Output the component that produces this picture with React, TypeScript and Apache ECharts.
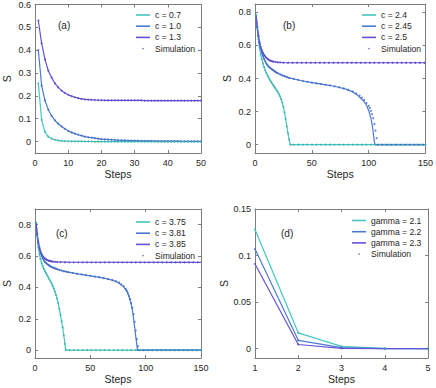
import React, { useEffect, useRef } from "react";
import * as echarts from "echarts";

// ---------- Panel (a): S at steps 1..50 ----------
const aC07 = [0.255,0.095,0.042,0.022,0.013,0.008,0.005,0.003,0.002,0.0015,
  0.001,0.0008,0.0006,0.0005,0.0004,0.0003,0.0003,0.0002,0.0002,0.0002,
  0,0,0,0,0,0,0,0,0,0, 0,0,0,0,0,0,0,0,0,0, 0,0,0,0,0,0,0,0,0,0];
const aC10 = [0.40,0.245,0.18,0.14,0.112,0.093,0.078,0.066,0.056,0.047,
  0.040,0.035,0.030,0.026,0.022,0.019,0.017,0.015,0.013,0.011,
  0.010,0.009,0.008,0.007,0.0063,0.0057,0.0052,0.0047,0.0043,0.004,
  0.0037,0.0034,0.0031,0.0029,0.0027,0.0025,0.0023,0.0021,0.002,0.0019,
  0.0018,0.0017,0.0016,0.0015,0.0014,0.0013,0.0012,0.0012,0.0011,0.001];
const aC13 = [0.53,0.43,0.36,0.31,0.28,0.255,0.237,0.223,0.213,0.205,
  0.199,0.194,0.19,0.187,0.185,0.184,0.183,0.182,0.181,0.181,
  0.18,0.18,0.18,0.18,0.18,0.18,0.18,0.18,0.18,0.18,
  0.18,0.18,0.179,0.179,0.179,0.179,0.179,0.179,0.179,0.179,
  0.179,0.179,0.179,0.179,0.179,0.179,0.179,0.179,0.179,0.179];

// ---------- Panel (b): [step, S] ----------
const bC240 = [[1,0.78],[2,0.70],[3,0.635],[4,0.585],[5,0.545],[6,0.515],[7,0.49],[8,0.468],[10,0.432],[13,0.392],[15,0.37],[18,0.34],[20,0.318],[22,0.292],[24,0.255],[26,0.195],[28,0.11],[29.5,0.05],[31,0],[150,0]];
const bC245 = [[1,0.78],[2,0.71],[3,0.655],[4,0.61],[5,0.58],[6,0.555],[7,0.535],[8,0.518],[10,0.49],[12,0.472],[15,0.455],[20,0.432],[25,0.416],[30,0.404],[40,0.388],[50,0.375],[60,0.364],[70,0.353],[80,0.336],[85,0.322],[90,0.30],[95,0.268],[98,0.24],[100,0.207],[102,0.16],[103,0.125],[104,0.075],[105,0.02],[105.5,0],[150,0]];
const bC250 = [[1,0.78],[2,0.71],[3,0.66],[4,0.62],[5,0.59],[6,0.57],[7,0.555],[8,0.543],[10,0.525],[12,0.513],[14,0.506],[16,0.502],[20,0.498],[25,0.496],[30,0.495],[150,0.495]];
const bSim240 = [[1,0.78],[2,0.70],[3,0.635],[4,0.585],[5,0.545],[6,0.515],[7,0.49],[8,0.468],[9,0.449],[10,0.432],[11,0.418],[12,0.405],[13,0.392],[14,0.381],[15,0.37],[16,0.36],[17,0.35],[18,0.34],[19,0.329],[20,0.318],[21,0.306],[22,0.292],[23,0.275],[24,0.255],[25,0.228],[26,0.195],[27,0.155],[28,0.11],[29,0.07],[30,0.03],[31,0],[34,0],[38,0],[42,0],[46,0],[50,0],[54,0],[58,0],[62,0],[66,0],[70,0],[74,0],[78,0],[82,0],[86,0],[90,0],[94,0],[98,0],[102,0],[106,0],[110,0],[114,0],[118,0],[122,0],[126,0],[130,0],[134,0],[138,0],[142,0],[146,0],[150,0]];
const bSim245 = [[1,0.78],[2,0.71],[3,0.655],[4,0.61],[5,0.58],[6,0.555],[7,0.535],[8,0.518],[9,0.503],[10,0.49],[11,0.481],[12,0.472],[13,0.465],[14,0.46],[15,0.455],[16,0.45],[17,0.445],[18,0.44],[19,0.436],[20,0.432],[22,0.425],[24,0.419],[26,0.414],[28,0.409],[30,0.404],[34,0.398],[38,0.391],[42,0.385],[46,0.38],[50,0.375],[54,0.371],[58,0.366],[62,0.362],[66,0.358],[70,0.353],[74,0.347],[78,0.34],[82,0.332],[86,0.322],[89,0.31],[92,0.296],[94,0.284],[96,0.27],[98,0.252],[100,0.235],[101,0.222],[102,0.205],[103,0.185],[104,0.16],[105,0.125],[106,0.085],[107,0.04],[108,0],[112,0],[116,0],[120,0],[124,0],[128,0],[132,0],[136,0],[140,0],[144,0],[148,0]];
const bSim250 = [[1,0.78],[2,0.71],[3,0.66],[4,0.62],[5,0.59],[6,0.57],[7,0.555],[8,0.543],[9,0.533],[10,0.525],[11,0.519],[12,0.513],[13,0.509],[14,0.506],[15,0.504],[16,0.502],[18,0.5],[20,0.498],[22,0.497],[25,0.496],[29,0.495],[33,0.495],[37,0.495],[41,0.495],[45,0.495],[49,0.495],[53,0.495],[57,0.495],[61,0.495],[65,0.495],[69,0.495],[73,0.495],[77,0.495],[81,0.495],[85,0.495],[89,0.495],[93,0.495],[97,0.495],[101,0.495],[105,0.495],[109,0.495],[113,0.495],[117,0.495],[121,0.495],[125,0.495],[129,0.495],[133,0.495],[137,0.495],[141,0.495],[145,0.495],[149,0.495]];

// ---------- Panel (c): [step, S] ----------
const cC375 = [[1,0.81],[2,0.72],[3,0.655],[4,0.61],[5,0.58],[6,0.555],[7,0.535],[8,0.518],[10,0.49],[13,0.452],[15,0.425],[17,0.392],[19,0.352],[21,0.30],[23,0.225],[24,0.185],[25,0.145],[26,0.095],[27,0.04],[27.6,0],[150,0]];
const cC381 = [[1,0.81],[2,0.735],[3,0.68],[4,0.645],[5,0.62],[6,0.60],[7,0.585],[8,0.573],[10,0.555],[15,0.53],[20,0.516],[30,0.497],[40,0.485],[50,0.474],[60,0.462],[70,0.446],[75,0.432],[80,0.405],[83,0.375],[85,0.34],[87,0.29],[88,0.256],[89,0.205],[90,0.15],[91,0.09],[92,0.035],[92.6,0],[150,0]];
const cC385 = [[1,0.81],[2,0.74],[3,0.69],[4,0.655],[5,0.63],[6,0.612],[7,0.60],[8,0.59],[10,0.578],[13,0.569],[16,0.565],[20,0.562],[30,0.561],[150,0.56]];
const cSim375 = [[1,0.81],[2,0.72],[3,0.655],[4,0.61],[5,0.58],[6,0.555],[7,0.535],[8,0.518],[9,0.503],[10,0.49],[11,0.477],[12,0.465],[13,0.452],[14,0.439],[15,0.425],[16,0.409],[17,0.392],[18,0.373],[19,0.352],[20,0.328],[21,0.30],[22,0.265],[23,0.225],[24,0.185],[25,0.145],[26,0.095],[27,0.04],[28,0],[31,0],[35,0],[39,0],[43,0],[47,0],[51,0],[55,0],[59,0],[63,0],[67,0],[71,0],[75,0],[79,0],[83,0],[87,0],[91,0],[95,0],[99,0],[103,0],[107,0],[111,0],[115,0],[119,0],[123,0],[127,0],[131,0],[135,0],[139,0],[143,0],[147,0],[150,0]];
const cSim381 = [[1,0.81],[2,0.735],[3,0.68],[4,0.645],[5,0.62],[6,0.60],[7,0.585],[8,0.573],[9,0.563],[10,0.555],[11,0.549],[12,0.543],[13,0.538],[14,0.534],[15,0.53],[16,0.527],[17,0.524],[18,0.521],[19,0.518],[20,0.516],[22,0.511],[24,0.507],[26,0.503],[28,0.5],[30,0.497],[34,0.492],[38,0.487],[42,0.483],[46,0.478],[50,0.474],[54,0.469],[58,0.465],[62,0.459],[66,0.453],[70,0.446],[73,0.44],[76,0.43],[78,0.42],[80,0.408],[82,0.39],[83,0.378],[84,0.362],[85,0.345],[86,0.325],[87,0.3],[88,0.27],[89,0.23],[90,0.18],[91,0.125],[92,0.07],[93,0.025],[94,0],[98,0],[102,0],[106,0],[110,0],[114,0],[118,0],[122,0],[126,0],[130,0],[134,0],[138,0],[142,0],[146,0],[150,0]];
const cSim385 = [[1,0.81],[2,0.74],[3,0.69],[4,0.655],[5,0.63],[6,0.612],[7,0.60],[8,0.59],[9,0.583],[10,0.578],[11,0.574],[12,0.571],[13,0.569],[14,0.567],[15,0.566],[16,0.565],[18,0.563],[20,0.562],[23,0.561],[27,0.56],[31,0.56],[35,0.56],[39,0.56],[43,0.56],[47,0.56],[51,0.56],[55,0.56],[59,0.56],[63,0.56],[67,0.56],[71,0.56],[75,0.56],[79,0.56],[83,0.56],[87,0.56],[91,0.56],[95,0.56],[99,0.56],[103,0.56],[107,0.56],[111,0.56],[115,0.56],[119,0.56],[123,0.56],[127,0.56],[131,0.56],[135,0.56],[139,0.56],[143,0.56],[147,0.56]];

// ---------- Panel (d): S at steps 1..5 ----------
const dSteps = [1, 2, 3, 4, 5];
const dG21 = [0.128, 0.017, 0.0025, 0.0003, 0];
const dG22 = [0.107, 0.009, 0.0012, 0.0001, 0];
const dG23 = [0.091, 0.0045, 0.0004, 0, 0];

// ---------- Tick values ----------
const aXTicks = [0, 10, 20, 30, 40, 50];
const aYTicks = [0, 0.1, 0.2, 0.3, 0.4, 0.5, 0.6];
const bXTicks = [0, 50, 100, 150];
const bYTicks = [0, 0.2, 0.4, 0.6, 0.8];
const cXTicks = [0, 50, 100, 150];
const cYTicks = [0, 0.2, 0.4, 0.6, 0.8];
const dXTicks = [1, 2, 3, 4, 5];
const dYTicks = [0, 0.05, 0.1, 0.15];

const CYAN = "#47c6c0";
const BLUE = "#4a7bd3";
const PURPLE = "#6652d6";
const SIM_P = "#5646c6";
const SIM_B = "#3d69c2";
const SIM_C = "#3bb1ab";
const AX = "#7d7d7d";
const TXT = "#262626";
const FONT = "'Liberation Sans', Arial, Helvetica, sans-serif";

const grids = [
  { left: 29, top: 4, width: 172, height: 149 },
  { left: 255, top: 4, width: 173, height: 149 },
  { left: 29, top: 209, width: 172, height: 149 },
  { left: 255, top: 209, width: 173, height: 149 },
];

function xAxes(gi: number, min: number, max: number, ticks: number[]) {
  const common = {
    type: "value",
    gridIndex: gi,
    min,
    max,
    splitLine: { show: false },
    axisLine: { show: true, onZero: false, lineStyle: { color: AX, width: 1 } },
    axisTick: { show: true, inside: true, length: 3, customValues: ticks, lineStyle: { color: AX } },
  };
  return [
    {
      ...common,
      position: "bottom",
      axisLabel: { customValues: ticks, fontSize: 9, color: TXT, margin: 5, fontFamily: FONT },
      name: "Steps",
      nameLocation: "middle",
      nameGap: 15,
      nameTextStyle: { fontSize: 10.5, color: TXT, fontFamily: FONT },
    },
    { ...common, position: "top", axisLabel: { show: false } },
  ];
}

function yAxes(gi: number, min: number, max: number, ticks: number[]) {
  const common = {
    type: "value",
    gridIndex: gi,
    min,
    max,
    splitLine: { show: false },
    axisLine: { show: true, onZero: false, lineStyle: { color: AX, width: 1 } },
    axisTick: { show: true, inside: true, length: 3, customValues: ticks, lineStyle: { color: AX } },
  };
  return [
    {
      ...common,
      position: "left",
      axisLabel: { customValues: ticks, fontSize: 9, color: TXT, margin: 4, fontFamily: FONT },
      name: "S",
      nameLocation: "middle",
      nameGap: 23,
      nameRotate: 90,
      nameTextStyle: { fontSize: 10.5, color: TXT, fontFamily: FONT },
    },
    { ...common, position: "right", axisLabel: { show: false } },
  ];
}

function lineS(name: string, gi: number, data: number[][], color: string) {
  return {
    type: "line",
    name,
    xAxisIndex: gi * 2,
    yAxisIndex: gi * 2,
    data,
    showSymbol: false,
    symbol: "none",
    lineStyle: { color, width: 1.2 },
    itemStyle: { color },
    z: 2,
  };
}

function simS(gi: number, data: number[][], color: string) {
  return {
    type: "scatter",
    name: "Simulation",
    xAxisIndex: gi * 2,
    yAxisIndex: gi * 2,
    data,
    symbol: "circle",
    symbolSize: 2,
    itemStyle: { color },
    z: 3,
  };
}

const toPairs = (vals: number[], start: number) => vals.map((v, i) => [start + i, v]);

function legend(left: number, top: number, names: string[]) {
  return {
    orient: "vertical",
    left,
    top,
    itemWidth: 14,
    itemHeight: 1.6,
    itemGap: 2.2,
    padding: 0,
    selectedMode: false,
    itemStyle: { borderWidth: 0 },
    textStyle: { fontSize: 8.6, color: TXT, fontFamily: FONT },
    data: [
      ...names.map((n) => ({ name: n, icon: "rect", itemStyle: { borderWidth: 0 } })),
      { name: "Simulation", icon: "circle", itemStyle: { borderWidth: 0 } },
    ],
  };
}

export default function App() {
  const ref = useRef<HTMLDivElement>(null);
  useEffect(() => {
    if (!ref.current) return;
    const chart = echarts.init(ref.current, undefined, { renderer: "svg" });
    const xs = [
      ...xAxes(0, 0, 50, aXTicks),
      ...xAxes(1, 0, 150, bXTicks),
      ...xAxes(2, 0, 150, cXTicks),
      ...xAxes(3, 1, 5, dXTicks),
    ];
    const ys = [
      ...yAxes(0, -0.05, 0.6, aYTicks),
      ...yAxes(1, -0.05, 0.85, bYTicks),
      ...yAxes(2, -0.05, 0.9, cYTicks),
      ...yAxes(3, -0.01, 0.15, dYTicks),
    ];
    const dPairs = (vals: number[]) => vals.map((v, i) => [dSteps[i], v]);
    const series = [
      lineS("c = 0.7", 0, toPairs(aC07, 1), CYAN),
      lineS("c = 1.0", 0, toPairs(aC10, 1), BLUE),
      lineS("c = 1.3", 0, toPairs(aC13, 1), PURPLE),
      simS(0, toPairs(aC13, 1), SIM_P),
      simS(0, toPairs(aC10, 1), SIM_B),
      simS(0, toPairs(aC07, 1), SIM_C),

      lineS("c = 2.4", 1, bC240, CYAN),
      lineS("c = 2.45", 1, bC245, BLUE),
      lineS("c = 2.5", 1, bC250, PURPLE),
      simS(1, bSim250, SIM_P),
      simS(1, bSim245, SIM_B),
      simS(1, bSim240, SIM_C),

      lineS("c = 3.75", 2, cC375, CYAN),
      lineS("c = 3.81", 2, cC381, BLUE),
      lineS("c = 3.85", 2, cC385, PURPLE),
      simS(2, cSim385, SIM_P),
      simS(2, cSim381, SIM_B),
      simS(2, cSim375, SIM_C),

      lineS("gamma = 2.1", 3, dPairs(dG21), CYAN),
      lineS("gamma = 2.2", 3, dPairs(dG22), BLUE),
      lineS("gamma = 2.3", 3, dPairs(dG23), PURPLE),
      simS(3, dPairs(dG23), SIM_P),
      simS(3, dPairs(dG22), SIM_B),
      simS(3, dPairs(dG21), SIM_C),
    ];
    chart.setOption({
      animation: false,
      backgroundColor: "#ffffff",
      textStyle: { fontFamily: FONT },
      grid: grids,
      xAxis: xs,
      yAxis: ys,
      legend: [
        legend(136, 10.5, ["c = 0.7", "c = 1.0", "c = 1.3"]),
        legend(362, 10.5, ["c = 2.4", "c = 2.45", "c = 2.5"]),
        legend(136, 217.5, ["c = 3.75", "c = 3.81", "c = 3.85"]),
        legend(352, 216, ["gamma = 2.1", "gamma = 2.2", "gamma = 2.3"]),
      ],
      graphic: [
        { type: "text", left: 58, top: 20, style: { text: "(a)", fontSize: 10, fill: TXT, fontFamily: FONT } },
        { type: "text", left: 283, top: 20, style: { text: "(b)", fontSize: 10, fill: TXT, fontFamily: FONT } },
        { type: "text", left: 56, top: 228, style: { text: "(c)", fontSize: 10, fill: TXT, fontFamily: FONT } },
        { type: "text", left: 281, top: 228, style: { text: "(d)", fontSize: 10, fill: TXT, fontFamily: FONT } },
      ],
      series,
    });
    return () => chart.dispose();
  }, []);
  return (
    <div
      ref={ref}
      style={{ position: "fixed", left: 0, top: 0, width: 436, height: 388, background: "#fff" }}
    />
  );
}
